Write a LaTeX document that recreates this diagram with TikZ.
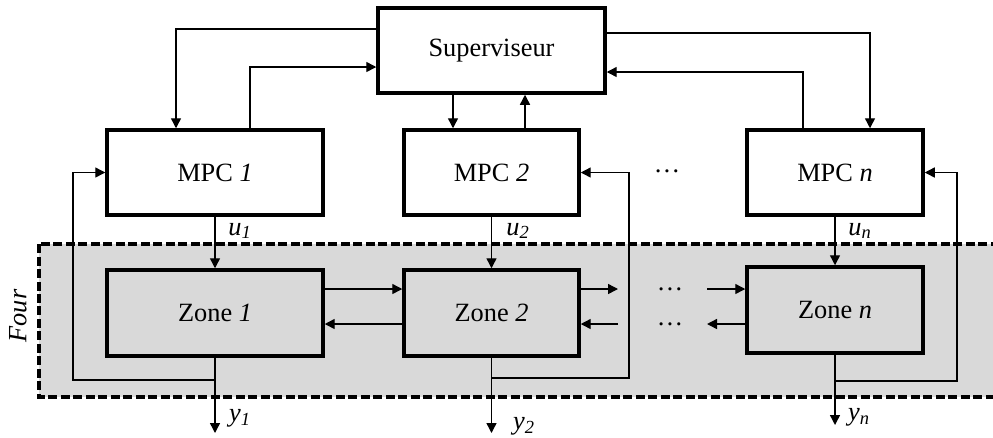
\documentclass[tikz,border=0pt]{standalone}
\usepackage{fontspec}
\setmainfont{Liberation Serif}
\usepackage{xcolor}
\usetikzlibrary{positioning, arrows.meta, calc}

\definecolor{zonegray}{HTML}{D9D9D9}

\tikzset{
    blockwhite/.style={draw=black, line width=2pt, fill=white, inner sep=0pt, minimum height=1.7cm},
    blockgray/.style={draw=black, line width=2pt, fill=zonegray, inner sep=0pt, minimum height=1.72cm},
    sig/.style={-{Triangle[length=0.2cm, width=0.2cm]}, line width=0.8pt},
    lab/.style={inner sep=0pt},
}

\begin{document}
\begin{tikzpicture}[x=0.02cm, y=-0.02cm, font=\fontsize{15}{17}\selectfont]
    \useasboundingbox (0,0) rectangle (993,437);

    % the furnace (dashed grey band)
    \draw[line width=2.2pt, dash pattern=on 0.18cm off 0.07cm, fill=zonegray]
        (39,244) rectangle (1010,397);
    \node[rotate=90] (four) at (18,316) {\textit{Four}};

    % supervisor
    \node[blockwhite, minimum width=4.54cm] (sup) at (491.5,50.5) {Superviseur};

    % MPC and zone blocks, u and y signals
    \foreach \n/\x/\w/\zy/\oy in {
        1/215/4.32/313/433,
        2/491.5/3.5/313/433,
        n/835/3.52/310/425}{

        \node[blockwhite, minimum width=\w cm] (mpc\n) at (\x,172.5) {MPC \textit{\n}};
        \node[blockgray, minimum width=\w cm] (zone\n) at (\x,\zy) {Zone \textit{\n}};
        \coordinate (out\n) at (\x,\oy);

        \draw[sig] (mpc\n) -- (zone\n);
        \draw[sig] (zone\n.south) -- (out\n);
    }

    % feedback loops
    \foreach \n/\bx/\by/\side in {
        1/73/380/west,
        2/629/378/east,
        n/957/381/east}{

        \coordinate (back\n) at (\bx,\by);
        \draw[sig] (zone\n.south |- back\n) -| (back\n) |- (mpc\n.\side);
    }

    % labels of the signals
    \foreach \n/\ux/\yx/\yy in {
        1/240/240/418,
        2/518/524/426,
        n/860/859/417}{

        \node[lab] (u\n) at (\ux,231) {\textit{u}\textsubscript{\textit{\n}}};
        \node[lab] (y\n) at (\yx,\yy) {\textit{y}\textsubscript{\textit{\n}}};
    }

    % supervisor <-> MPC links
    \coordinate (s1) at (176,29);
    \coordinate (s2) at (250,67);
    \coordinate (s3) at (870,33);
    \coordinate (s4) at (803,72);
    \coordinate (c1) at (453,0);
    \coordinate (c2) at (525,0);

    \draw[sig] (sup.west |- s1) -| (mpc1.north -| s1);
    \draw[sig] (mpc1.north -| s2) |- (sup.west |- s2);
    \draw[sig] (sup.south -| c1) -- (mpc2.north -| c1);
    \draw[sig] (mpc2.north -| c2) -- (sup.south -| c2);
    \draw[sig] (sup.east |- s3) -| (mpcn.north -| s3);
    \draw[sig] (mpcn.north -| s4) |- (sup.east |- s4);

    % coupling between zones
    \coordinate (hi) at (0,289);
    \coordinate (lo) at (0,324);
    \coordinate (z2out) at (618,289);
    \coordinate (z2in) at (618,324);
    \coordinate (znin) at (707,289);
    \coordinate (znout) at (707,324);

    \draw[sig] (zone1.east |- hi) -- (zone2.west |- hi);
    \draw[sig] (zone2.west |- lo) -- (zone1.east |- lo);
    \draw[sig] (zone2.east |- hi) -- (z2out);
    \draw[sig] (z2in) -- (zone2.east |- lo);
    \draw[sig] (znin) -- (zonen.west |- hi);
    \draw[sig] (zonen.west |- lo) -- (znout);

    % dots
    \node[anchor=base] (dotsmpc) at (667,172) {\dots};
    \node[anchor=base] (dotshi) at (670,290) {\dots};
    \node[anchor=base] (dotslo) at (670,325) {\dots};
\end{tikzpicture}
\end{document}
